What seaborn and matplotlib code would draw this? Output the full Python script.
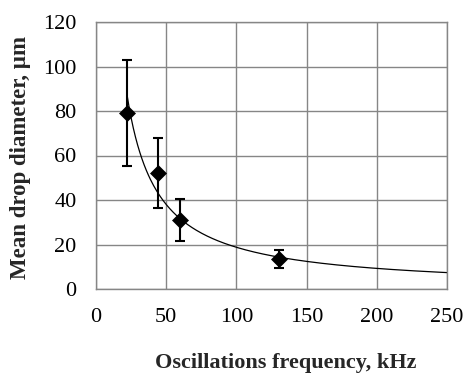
import numpy as np
import pandas as pd
import matplotlib
matplotlib.use("Agg")
import matplotlib.pyplot as plt
import seaborn as sns

# Measured mean drop diameter vs. ultrasonic oscillation frequency
frequency_khz = [22, 44, 60, 130]
diameter_um = [79, 52, 31, 13.5]
err_low = [55.5, 36.5, 21.5, 9.6]
err_high = [103, 67.7, 40.5, 17.6]

x_ticks = [0, 50, 100, 150, 200, 250]
y_ticks = [0, 20, 40, 60, 80, 100, 120]

sns.set_style("white")
plt.rcParams["font.family"] = ["Liberation Serif", "DejaVu Serif"]

df = pd.DataFrame({"f": frequency_khz, "d": diameter_um})

# Power-law trendline fitted to the measurements (least squares in log-log space)
slope, intercept = np.polyfit(np.log(frequency_khz), np.log(diameter_um), 1)
fit_x = np.linspace(min(frequency_khz), 250, 300)
fit_df = pd.DataFrame({"f": fit_x, "d": np.exp(intercept) * fit_x ** slope})

W, H = 467, 374
fig = plt.figure(figsize=(W / 100, H / 100), dpi=100)
left, right, top, bottom = 96, 447, 22, 289
ax = fig.add_axes([left / W, 1 - bottom / H, (right - left) / W, (bottom - top) / H])

grid_color = "#868686"
ax.set_xlim(0, 250)
ax.set_ylim(0, 120)
ax.set_xticks(x_ticks)
ax.set_yticks(y_ticks)
ax.grid(True, color=grid_color, linewidth=1.0)
ax.set_axisbelow(True)
for s in ax.spines.values():
    s.set_color(grid_color)
    s.set_linewidth(1.0)

sns.lineplot(data=fit_df, x="f", y="d", ax=ax, color="black", linewidth=0.9)

yerr = [np.array(diameter_um) - np.array(err_low), np.array(err_high) - np.array(diameter_um)]
ax.errorbar(frequency_khz, diameter_um, yerr=yerr, fmt="none", ecolor="black",
            elinewidth=1.5, capsize=3.6, capthick=1.5, zorder=3)
sns.scatterplot(data=df, x="f", y="d", ax=ax, marker="D", s=66, color="black",
                edgecolor="black", linewidth=0.5, zorder=4)

ax.tick_params(axis="both", length=0, labelsize=16, colors="black")
ax.tick_params(axis="x", pad=14)
ax.tick_params(axis="y", pad=14)
ax.set_xlabel("")
ax.set_ylabel("")

fig.text(285.5 / W, 1 - 368 / H, "Oscillations frequency, kHz", ha="center", va="baseline",
         fontsize=16, fontweight="bold")
fig.text(21 / W, 1 - 157.5 / H, "Mean drop diameter, µm", ha="center", va="center",
         rotation=90, fontsize=16.5, fontweight="bold")

fig.savefig("out.png", dpi=100)
